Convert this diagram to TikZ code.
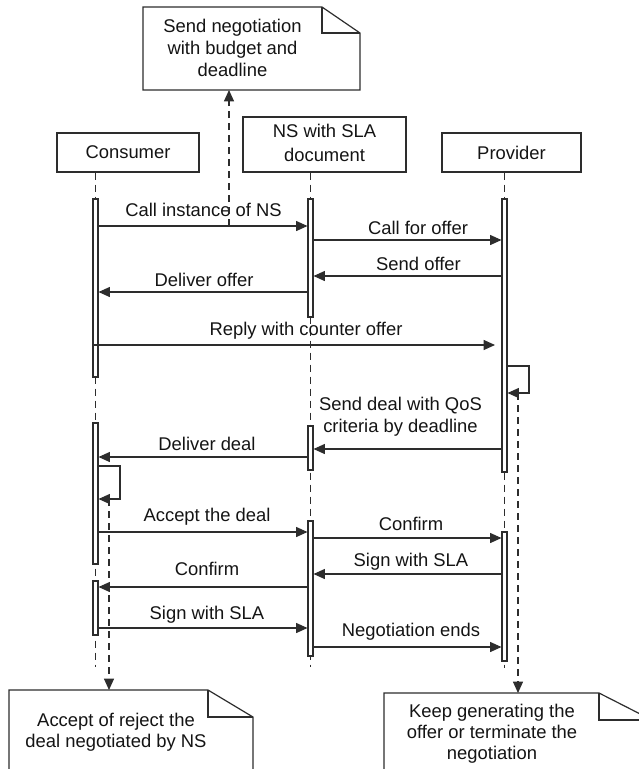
\documentclass[tikz,border=0pt]{standalone}
\usepackage{fontspec}
\setmainfont{Liberation Sans}
\usetikzlibrary{arrows.meta,fit,backgrounds}
\definecolor{linecol}{RGB}{45,45,45}
\definecolor{txtcol}{RGB}{20,20,20}
\begin{document}
\begin{tikzpicture}[x=0.75pt,y=-0.75pt,
  every node/.style={text=txtcol},
  hdr/.style={draw=linecol, line width=0.9pt, inner sep=0pt, font=\fontsize{13.8}{18}\selectfont},
  actbar/.style={draw=linecol, fill=white, line width=0.8pt, inner sep=0pt},
  life/.style={draw=linecol, line width=0.8pt, dash pattern=on 5.25pt off 3.75pt},
  msg/.style={draw=linecol, line width=0.8pt, -{Triangle[length=8.5pt,width=7.5pt]}},
  notearrow/.style={life, -{Triangle[length=8.5pt,width=7.5pt]}},
  notebox/.style={draw=linecol, line width=0.9pt, fill=white},
  lbl/.style={anchor=base, inner sep=0pt, font=\fontsize{13.8}{16.5}\selectfont},
]
\useasboundingbox (0,0) rectangle (639,769);
\clip (0,0) rectangle (639,769);

% headers
\node[hdr, minimum width=106.5pt, minimum height=29.25pt] (cons) at (128,152.5) {Consumer};
\node[hdr, minimum width=122.25pt, minimum height=41.25pt] (ns) at (324.5,144.5) {\begin{tabular}{@{}c@{}}NS with SLA\\document\end{tabular}};
\node[hdr, minimum width=104.25pt, minimum height=29.25pt] (prov) at (511.5,152.5) {Provider};

% activation bars
\node[actbar, fit={(93,199) (98,377)}] (cb1) {};
\node[actbar, fit={(93,423) (98,564)}] (cb2) {};
\node[actbar, fit={(93,581) (98,635)}] (cb3) {};
\node[actbar, fit={(308,199) (313,317)}] (nb1) {};
\node[actbar, fit={(308,426) (313,470)}] (nb2) {};
\node[actbar, fit={(308,521) (313,656)}] (nb3) {};
\node[actbar, fit={(502,199) (507,472)}] (pb1) {};
\node[actbar, fit={(502,532) (507,661)}] (pb2) {};

% lifelines
\begin{scope}[on background layer]
\draw[life] (cons.south -| cb1.center) -- (cb1.center |- 0,667);
\draw[life] (ns.south -| nb1.center) -- (nb1.center |- 0,667);
\draw[life] (prov.south -| pb1.center) -- (pb1.center |- 0,668);
\end{scope}

% messages
\draw[msg] (cb1.east |- 0,226) -- (nb1.west |- 0,226);
\node[lbl] (l1) at (203.5,216.7) {Call instance of NS};
\draw[msg] (nb1.east |- 0,240) -- (pb1.west |- 0,240);
\node[lbl] (l2) at (418,234.3) {Call for offer};
\draw[msg] (pb1.west |- 0,276) -- (nb1.east |- 0,276);
\node[lbl] (l3) at (418.5,270) {Send offer};
\draw[msg] (nb1.west |- 0,292) -- (cb1.east |- 0,292);
\node[lbl] (l4) at (204,286.7) {Deliver offer};
\coordinate (replyend) at (495,345);
\draw[msg] (cb1.west |- replyend) -- (replyend);
\node[lbl] (l5) at (306,335.7) {Reply with counter offer};

% provider self loop
\coordinate (ploopa) at (529,366);
\coordinate (ploopb) at (529,393);
\draw[msg] (pb1.east |- ploopa) -- (ploopa) -- (ploopb) -- (pb1.east |- ploopb);

\draw[msg] (pb1.west |- 0,449) -- (nb2.east |- 0,449);
\node[lbl] (l6) at (400.5,410) {\begin{tabular}[t]{@{}c@{}}Send deal with QoS\\criteria by deadline\end{tabular}};
\draw[msg] (nb2.west |- 0,457) -- (cb2.east |- 0,457);
\node[lbl] (l7) at (207,450) {Deliver deal};

% consumer self loop
\coordinate (cloopa) at (120,466);
\coordinate (cloopb) at (120,499);
\draw[msg] (cb2.east |- cloopa) -- (cloopa) -- (cloopb) -- (cb2.east |- cloopb);

\draw[msg] (cb2.east |- 0,532) -- (nb3.west |- 0,532);
\node[lbl] (l8) at (207,521.7) {Accept the deal};
\draw[msg] (nb3.east |- 0,538) -- (pb2.west |- 0,538);
\node[lbl] (l9) at (411,530) {Confirm};
\draw[msg] (pb2.west |- 0,574) -- (nb3.east |- 0,574);
\node[lbl] (l10) at (411,566.7) {Sign with SLA};
\draw[msg] (nb3.west |- 0,587) -- (cb3.east |- 0,587);
\node[lbl] (l11) at (207,575) {Confirm};
\draw[msg] (cb3.east |- 0,628) -- (nb3.west |- 0,628);
\node[lbl] (l12) at (207,619) {Sign with SLA};
\draw[msg] (nb3.east |- 0,647) -- (pb2.west |- 0,647);
\node[lbl] (l13) at (411,636.7) {Negotiation ends};

% top note
\draw[notebox] (143,7) -- (322,7) -- (360,33) -- (360,90) -- (143,90) -- cycle;
\draw[linecol, line width=0.9pt] (322,7) -- (322,33) -- (360,33);
\node[lbl] (topnote) at (232.5,32.3) {\fontsize{13.8}{16.7}\selectfont\begin{tabular}[t]{@{}c@{}}Send negotiation\\with budget and\\deadline\end{tabular}};
\coordinate (topstart) at (229,226);
\coordinate (topend) at (229,90);
\draw[notearrow] (topstart) -- (topend);

% bottom-left note
\draw[notebox] (9,690) -- (208,690) -- (253,717) -- (253,790) -- (9,790) -- cycle;
\draw[linecol, line width=0.9pt] (208,690) -- (208,717) -- (253,717);
\node[lbl] (blnote) at (116,726.7) {\fontsize{13.8}{15.3}\selectfont\begin{tabular}[t]{@{}c@{}}Accept of reject the\\deal negotiated by NS\end{tabular}};
\coordinate (blstart) at (109,499);
\coordinate (blend) at (109,690);
\draw[notearrow] (blstart) -- (blend);

% bottom-right note
\draw[notebox] (384,693) -- (599,693) -- (652,720) -- (652,790) -- (384,790) -- cycle;
\draw[linecol, line width=0.9pt] (599,693) -- (599,720) -- (652,720);
\node[lbl] (brnote) at (492,717.3) {\fontsize{13.8}{16}\selectfont\begin{tabular}[t]{@{}c@{}}Keep generating the\\offer or terminate the\\negotiation\end{tabular}};
\coordinate (brstart) at (518,393);
\coordinate (brend) at (518,693);
\draw[notearrow] (brstart) -- (brend);
\end{tikzpicture}
\end{document}
